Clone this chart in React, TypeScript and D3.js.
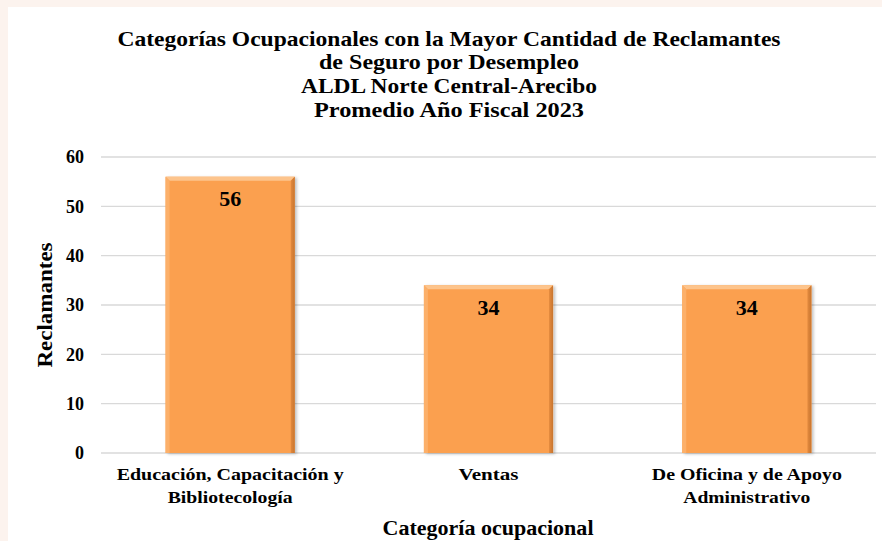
import React from "react";
import * as d3 from "d3";

const titleLines = [
  "Categorías Ocupacionales con la Mayor Cantidad de Reclamantes",
  "de Seguro por Desempleo",
  "ALDL Norte Central-Arecibo",
  "Promedio Año Fiscal 2023",
];
const titleWidths = [663, 260, 296, 270];
const categories = [
  ["Educación, Capacitación y", "Bibliotecología"],
  ["Ventas"],
  ["De Oficina y de Apoyo", "Administrativo"],
];
const categoryWidths = [[227, 125], [60], [190, 127]];
const values = [56, 34, 34];
const yTicks = [0, 10, 20, 30, 40, 50, 60];
const yTitle = "Reclamantes";
const xTitle = "Categoría ocupacional";

const W = 882;
const H = 541;
const FONT = "'Liberation Serif', 'Times New Roman', serif";

export default function App() {
  const x = d3
    .scaleBand<number>()
    .domain(values.map((_, i) => i))
    .range([101, 876])
    .paddingInner(0.5)
    .paddingOuter(0.25);
  const y = d3.scaleLinear().domain([0, 60]).range([453, 157]);
  const bw = x.bandwidth();
  const bev = 4;

  return (
    <svg
      width={W}
      height={H}
      style={{ position: "absolute", left: 0, top: 0, fontFamily: FONT }}
    >
      <defs>
        <filter id="sh" x="-10%" y="-10%" width="130%" height="130%">
          <feDropShadow dx="2" dy="1" stdDeviation="1.5" floodColor="#000" floodOpacity="0.25" />
        </filter>
        <linearGradient id="rightEdge" x1="0" x2="1" y1="0" y2="0">
          <stop offset="0" stopColor="#E38A3E" />
          <stop offset="1" stopColor="#C8752F" />
        </linearGradient>
      </defs>
      <rect x={0} y={0} width={W} height={H} fill="#FCF3EE" />
      <rect x={8} y={7} width={W - 8} height={H - 7} fill="#FFFFFF" />

      {titleLines.map((t, i) => (
        <text
          key={i}
          x={449}
          y={45.5 + i * 23.7}
          textAnchor="middle"
          fontWeight="bold"
          fontSize={21.5}
          textLength={titleWidths[i]}
          lengthAdjust="spacingAndGlyphs"
          fill="#000"
        >
          {t}
        </text>
      ))}

      {yTicks.map((t) => (
        <g key={t}>
          <line x1={101} x2={876} y1={y(t)} y2={y(t)} stroke="#D9D9D9" strokeWidth={1.3} />
          <text
            x={84}
            y={y(t)}
            dy="0.35em"
            textAnchor="end"
            fontWeight="bold"
            fontSize={18}
          >
            {t}
          </text>
        </g>
      ))}

      {values.map((v, i) => {
        const x0 = x(i)!;
        const x1 = x0 + bw;
        const y0 = y(v);
        const yb = y(0);
        return (
          <g key={i}>
            <rect x={x0} y={y0} width={bw} height={yb - y0} fill="#FBA04F" filter="url(#sh)" />
            <polygon
              points={`${x0},${y0} ${x1},${y0} ${x1 - bev},${y0 + bev} ${x0 + bev},${y0 + bev}`}
              fill="#FDC48C"
            />
            <polygon
              points={`${x0},${y0} ${x0 + bev},${y0 + bev} ${x0 + bev},${yb} ${x0},${yb}`}
              fill="#FCB06A"
            />
            <polygon
              points={`${x1},${y0} ${x1},${yb} ${x1 - bev},${yb} ${x1 - bev},${y0 + bev}`}
              fill="url(#rightEdge)"
            />
            <text
              x={x0 + bw / 2}
              y={y0 + 29.5}
              textAnchor="middle"
              fontWeight="bold"
              fontSize={22}
            >
              {v}
            </text>
          </g>
        );
      })}

      {categories.map((lines, i) =>
        lines.map((l, j) => (
          <text
            key={`${i}-${j}`}
            x={x(i)! + bw / 2}
            y={480 + j * 23}
            textAnchor="middle"
            fontWeight="bold"
            fontSize={17}
            textLength={categoryWidths[i][j]}
            lengthAdjust="spacingAndGlyphs"
          >
            {l}
          </text>
        ))
      )}

      <text
        x={488}
        y={535}
        textAnchor="middle"
        fontWeight="bold"
        fontSize={20}
        textLength={211}
        lengthAdjust="spacingAndGlyphs"
      >
        {xTitle}
      </text>
      <text
        transform={`translate(52,305) rotate(-90)`}
        textAnchor="middle"
        fontWeight="bold"
        fontSize={20}
        textLength={125}
        lengthAdjust="spacingAndGlyphs"
      >
        {yTitle}
      </text>
    </svg>
  );
}
